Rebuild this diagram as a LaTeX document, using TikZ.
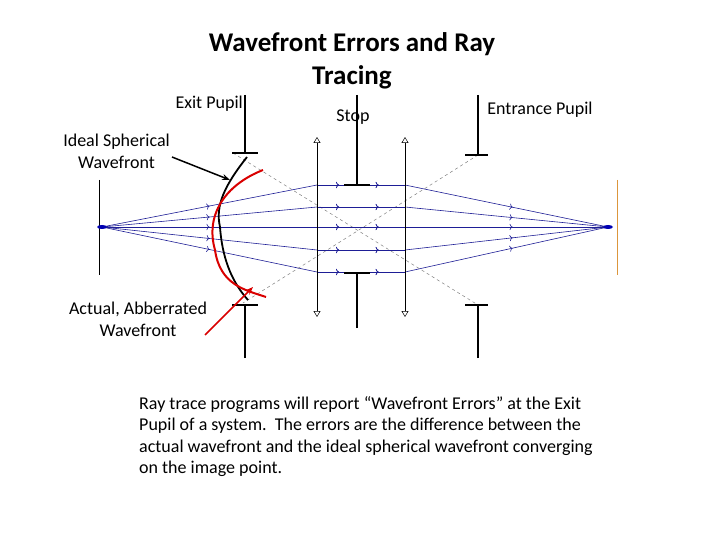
\documentclass[tikz,border=0pt]{standalone}
\usepackage{fontspec}
\setmainfont{Carlito}
\usetikzlibrary{arrows.meta,decorations.markings}
\begin{document}
\begin{tikzpicture}[x=1pt,y=-1pt,
 stopline/.style={line width=2.2pt},
 ray/.style={draw={rgb,255:red,30;green,30;blue,150},line width=0.6pt},
 greydash/.style={draw=gray,dashed,line width=0.5pt},
 lbl/.style={font=\fontsize{18}{22}\selectfont,align=center,inner sep=0pt},
 lens/.style={line width=0.5pt,{Triangle[open,length=6pt,width=7pt]}-{Triangle[open,length=6pt,width=7pt]}},
 mk/.style={postaction={decorate},decoration={markings,mark=at position #1 with {\arrow{>}}}}]
\path[use as bounding box,fill=white] (0,0) rectangle (720,540);
\node[font=\bfseries\fontsize{27}{33}\selectfont,align=center] (title) at (352,61) {Wavefront Errors and Ray\\Tracing};
\node[lbl,anchor=east] (ep) at (243,104) {Exit Pupil};
\node[lbl] (st) at (353,117) {Stop};
\node[lbl] (enp) at (540,110) {Entrance Pupil};
\node[lbl,anchor=east] (isw) at (170,151) {Ideal Spherical\\Wavefront};
\node[lbl] (aaw) at (138,319) {Actual, Abberrated\\Wavefront};
\node[lbl,anchor=north west,align=left,font=\fontsize{18}{21.5}\selectfont] (txt) at (139,396) {Ray trace programs will report “Wavefront Errors” at the Exit\\Pupil of a system.\ \ The errors are the difference between the\\actual wavefront and the ideal spherical wavefront converging\\on the image point.};
% object and image
\coordinate (O) at (102,227); \coordinate (I) at (608,227);
\draw[line width=0.8pt] (99,180) -- (99,275);
\draw[draw={rgb,255:red,220;green,150;blue,60},line width=0.8pt] (617,180) -- (617,275);
% dashed
\draw[greydash] (233,153) -- (478,305);
\draw[greydash] (478,155) -- (243,303);
% rays
\foreach \y in {185,207,227,250,272}{
 \coordinate (a) at (317,\y); \coordinate (b) at (405,\y);
 \draw[ray,mk=0.5] (O) -- (a);
 \draw[ray,mk=0.25,mk=0.7] (a) -- (b);
 \draw[ray,mk=0.53] (b) -- (I);}
\fill[blue!70!black] (O) ellipse (5pt and 2pt);
\fill[blue!70!black] (I) ellipse (5pt and 2pt);
% lenses
\draw[lens] (317,317) -- (317,137);
\draw[lens] (405,317) -- (405,137);
% stops
\draw[stopline] (245,95) -- (245,153) (232,153) -- (258,153);
\draw[stopline] (245,358) -- (245,305) (232,305) -- (258,305);
\draw[stopline] (357,95) -- (357,185) (344,185) -- (370,185);
\draw[stopline] (357,328) -- (357,273) (344,273) -- (370,273);
\draw[stopline] (478,95) -- (478,155) (465,155) -- (488,155);
\draw[stopline] (478,358) -- (478,305) (465,305) -- (488,305);
% wavefronts
\draw[line width=1.8pt] (247,157) .. controls (225,185) and (215,205) .. (220,227) .. controls (222,255) and (230,280) .. (248,300);
\draw[line width=2pt,red!85!black] (263,170) .. controls (225,185) and (205,215) .. (215,250) .. controls (220,285) and (245,290) .. (266,297);
\draw[line width=1.5pt,-{Stealth[length=8pt]}] (isw.east)++(2,6) -- (230,180);
\draw[line width=1.5pt,red!85!black,-{Stealth[length=8pt]}] (205,335) -- (253,287);
\end{tikzpicture}
\end{document}
